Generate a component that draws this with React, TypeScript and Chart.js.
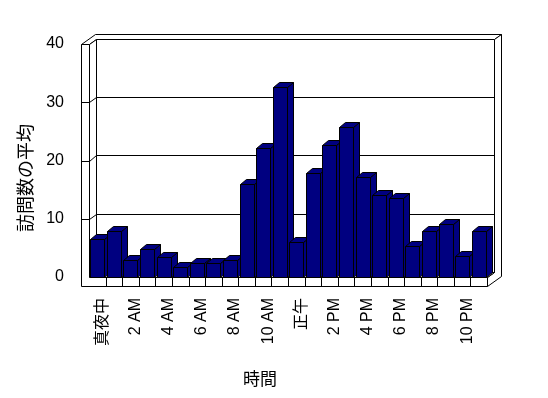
import React, { useEffect, useRef } from "react";
import { Chart, registerables } from "chart.js";

Chart.register(...registerables);

// ---- data ----
const hours = [
  "真夜中", "1 AM", "2 AM", "3 AM", "4 AM", "5 AM", "6 AM", "7 AM", "8 AM", "9 AM", "10 AM", "11 AM",
  "正午", "1 PM", "2 PM", "3 PM", "4 PM", "5 PM", "6 PM", "7 PM", "8 PM", "9 PM", "10 PM", "11 PM",
];
const avgVisits = [
  6.6, 7.9, 2.9, 4.8, 3.5, 1.7, 2.4, 2.4, 2.9, 16.0, 22.1, 32.6,
  6.0, 17.8, 22.6, 25.8, 17.1, 14.0, 13.5, 5.4, 7.9, 9.1, 3.6, 7.9,
];
const yTicks = [0, 10, 20, 30, 40];
const xTitle = "時間";
const yTitle = "訪問数の平均";

// ---- 3D look ----
const DEPTH = { x: 7, y: -5.2 };
const BAR_DEPTH = { x: 6, y: -5 };
const WALL = 8;
const FLOOR = 9;
const BAR_COLOR = "#000080";
const TICK_FONT = { family: '"Liberation Sans", "Noto Sans CJK JP", sans-serif', size: 16 };

const P = (v: number) => Math.round(v) + 0.5;

function poly(ctx: CanvasRenderingContext2D, pts: number[][], fill: string) {
  ctx.beginPath();
  pts.forEach(([x, y], i) => (i === 0 ? ctx.moveTo(P(x), P(y)) : ctx.lineTo(P(x), P(y))));
  ctx.closePath();
  ctx.fillStyle = fill;
  ctx.fill();
  ctx.stroke();
}

function polyline(ctx: CanvasRenderingContext2D, pts: number[][]) {
  ctx.beginPath();
  pts.forEach(([x, y], i) => (i === 0 ? ctx.moveTo(P(x), P(y)) : ctx.lineTo(P(x), P(y))));
  ctx.stroke();
}

const frame3d = {
  id: "frame3d",
  beforeDatasetsDraw(chart: any) {
    const { ctx, chartArea } = chart;
    const { left: L, right: R, top: T, bottom: B } = chartArea;
    const dx = DEPTH.x, dy = DEPTH.y;
    const ys = chart.scales.y;
    const xs = chart.scales.x;
    ctx.save();
    ctx.lineWidth = 1;
    ctx.strokeStyle = "#000";
    ctx.lineJoin = "miter";
    // back wall
    poly(ctx, [[L + dx, T + dy], [R + dx, T + dy], [R + dx, B + dy], [L + dx, B + dy]], "#fff");
    // top slab (left wall + back wall thickness)
    poly(ctx, [[L - WALL, T], [L, T], [L + dx, T + dy], [R + dx, T + dy], [R + 2 * dx, T + 2 * dy], [L - WALL + 2 * dx, T + 2 * dy]], "#fff");
    // right slab (back wall + floor side)
    poly(ctx, [[R + dx, T + dy], [R + 2 * dx, T + 2 * dy], [R + 2 * dx, B + FLOOR + 2 * dy], [R, B + FLOOR], [R, B], [R + dx, B + dy]], "#fff");
    // left wall inner side
    poly(ctx, [[L, T], [L + dx, T + dy], [L + dx, B + dy], [L, B]], "#fff");
    // floor top
    poly(ctx, [[L, B], [R, B], [R + dx, B + dy], [L + dx, B + dy]], "#fff");
    // front faces: left wall + floor edge
    poly(ctx, [[L - WALL, T], [L, T], [L, B], [R, B], [R, B + FLOOR], [L - WALL, B + FLOOR]], "#fff");
    // gridlines
    yTicks.forEach((v) => {
      if (v === yTicks[0] || v === yTicks[yTicks.length - 1]) return;
      const py = ys.getPixelForValue(v);
      polyline(ctx, [[L - WALL, py], [L, py], [L + dx, py + dy], [R + dx, py + dy]]);
    });
    // floor ticks at category boundaries
    for (let i = 1; i < hours.length; i++) {
      const px = (xs.getPixelForValue(i - 1) + xs.getPixelForValue(i)) / 2;
      polyline(ctx, [[px, B], [px, B + FLOOR]]);
    }
    ctx.restore();
  },
  beforeDatasetDraw() {
    return false;
  },
  afterDatasetsDraw(chart: any) {
    const { ctx } = chart;
    const meta = chart.getDatasetMeta(0);
    ctx.save();
    ctx.lineWidth = 1;
    ctx.strokeStyle = "#000";
    const bx = BAR_DEPTH.x, by = BAR_DEPTH.y;
    meta.data.forEach((el: any) => {
      const { x, y, base, width } = el.getProps(["x", "y", "base", "width"], true);
      const x1 = x - width / 2, x2 = x + width / 2;
      poly(ctx, [[x2, y], [x2 + bx, y + by], [x2 + bx, base + by], [x2, base]], BAR_COLOR);
      poly(ctx, [[x1, y], [x1 + bx, y + by], [x2 + bx, y + by], [x2, y]], BAR_COLOR);
      poly(ctx, [[x1, y], [x2, y], [x2, base], [x1, base]], BAR_COLOR);
    });
    ctx.restore();
  },
  afterDraw(chart: any) {
    const { ctx } = chart;
    ctx.save();
    ctx.fillStyle = "#000";
    ctx.textAlign = "center";
    ctx.textBaseline = "middle";
    ctx.font = '17px "Noto Sans CJK JP", sans-serif';
    ctx.fillText(xTitle, 260, 379);
    ctx.translate(25, 178);
    ctx.rotate(-Math.PI / 2);
    ctx.font = '18px "Noto Sans CJK JP", sans-serif';
    ctx.fillText(yTitle, 0, 0);
    ctx.restore();
  },
};

export default function App() {
  const ref = useRef<HTMLCanvasElement>(null);
  useEffect(() => {
    const chart = new Chart(ref.current!, {
      type: "bar",
      data: {
        labels: hours,
        datasets: [
          {
            data: avgVisits,
            backgroundColor: BAR_COLOR,
            barPercentage: 0.84,
            categoryPercentage: 1.0,
          },
        ],
      },
      options: {
        animation: false,
        responsive: false,
        layout: { padding: { top: 44, right: 61, bottom: 0, left: 0 } },
        plugins: { legend: { display: false }, tooltip: { enabled: false } },
        scales: {
          x: {
            type: "category",
            afterFit: (s: any) => {
              s.height = 121;
            },
            grid: { display: false, drawTicks: false },
            border: { display: false },
            ticks: {
              autoSkip: false,
              maxRotation: 90,
              minRotation: 90,
              padding: 21,
              labelOffset: 5,
              color: "#000",
              font: TICK_FONT,
              callback: (_v: any, i: number) => (i % 2 === 0 ? hours[i] : ""),
            },
          },
          y: {
            type: "linear",
            min: yTicks[0],
            max: yTicks[yTicks.length - 1],
            afterBuildTicks: (s: any) => {
              s.ticks = yTicks.map((v) => ({ value: v }));
            },
            afterFit: (s: any) => {
              s.width = 89;
            },
            grid: { display: false, drawTicks: false },
            border: { display: false },
            ticks: { color: "#000", font: TICK_FONT, padding: 25 },
          },
        },
      },
      plugins: [frame3d],
    });
    return () => chart.destroy();
  }, []);
  return (
    <div style={{ position: "absolute", left: 0, top: 0, width: 548, height: 398 }}>
      <canvas ref={ref} width={548} height={398} style={{ display: "block" }} />
    </div>
  );
}
